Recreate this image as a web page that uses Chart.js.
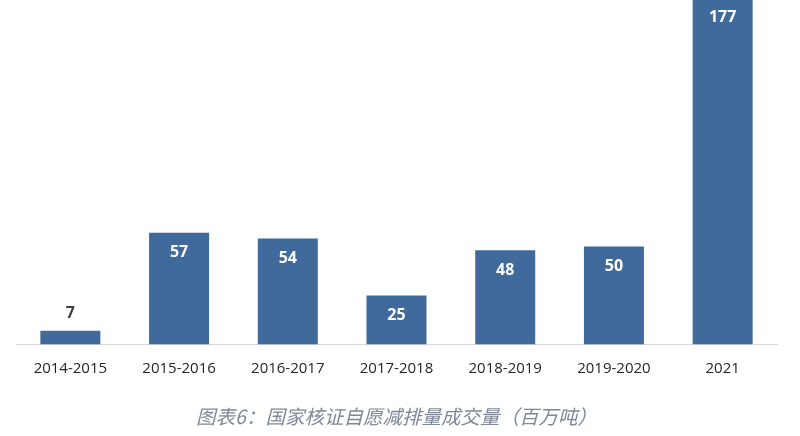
<!DOCTYPE html>
<html>
<head>
<meta charset="utf-8">
<script src="https://cdn.jsdelivr.net/npm/chart.js@4.4.0/dist/chart.umd.min.js"></script>
<style>
  html, body { margin: 0; padding: 0; background: #fff; }
  #wrap { width: 800px; height: 436px; position: relative; }
</style>
</head>
<body>
<div id="wrap"><canvas id="cerChart"></canvas></div>
<script>
// Years and traded volume (million tonnes)
const periods = ['2014-2015', '2015-2016', '2016-2017', '2017-2018', '2018-2019', '2019-2020', '2021'];
const volumes = [7, 57, 54, 25, 48, 50, 177];
const chartTitle = '图表6：国家核证自愿减排量成交量（百万吨）';

// simple value labels: inside the bar top, or above it when the bar is too short
const valueLabels = {
    id: 'valueLabels',
    afterDatasetsDraw(chart) {
        const ctx = chart.ctx;
        const meta = chart.getDatasetMeta(0);
        ctx.save();
        ctx.font = 'bold 16px "Open Sans", "Noto Sans", sans-serif';
        ctx.textAlign = 'center';
        ctx.textBaseline = 'middle';
        meta.data.forEach((bar, i) => {
            const h = bar.base - bar.y;
            if (h < 30) {
                ctx.fillStyle = '#404040';
                ctx.fillText(volumes[i], bar.x, bar.y - 17);
            } else {
                ctx.fillStyle = '#ffffff';
                ctx.fillText(volumes[i], bar.x, bar.y + 20);
            }
        });
        ctx.restore();
    }
};

new Chart(document.getElementById('cerChart'), {
    type: 'bar',
    data: {
        labels: periods,
        datasets: [{
            data: volumes,
            backgroundColor: '#416a9c',
            borderWidth: 0,
            categoryPercentage: 1,
            barPercentage: 0.552
        }]
    },
    options: {
        responsive: true,
        maintainAspectRatio: false,
        animation: false,
        layout: { padding: { top: 0, left: 16, right: 23, bottom: 8 } },
        plugins: {
            legend: { display: false },
            tooltip: { enabled: false },
            title: {
                display: true,
                text: chartTitle,
                position: 'bottom',
                color: '#7f8898',
                font: { family: '"Noto Sans CJK SC", sans-serif', size: 19.5, style: 'italic', weight: 'normal' },
                padding: { top: 20, bottom: 0 }
            }
        },
        scales: {
            x: {
                grid: { display: false },
                border: { display: true, color: '#d9d9d9', width: 1 },
                ticks: {
                    color: '#262626',
                    padding: 7,
                    font: { family: '"Open Sans", "Noto Sans", sans-serif', size: 15 }
                }
            },
            y: {
                display: false,
                min: 0,
                max: 175.5
            }
        }
    },
    plugins: [valueLabels]
});
</script>
</body>
</html>
